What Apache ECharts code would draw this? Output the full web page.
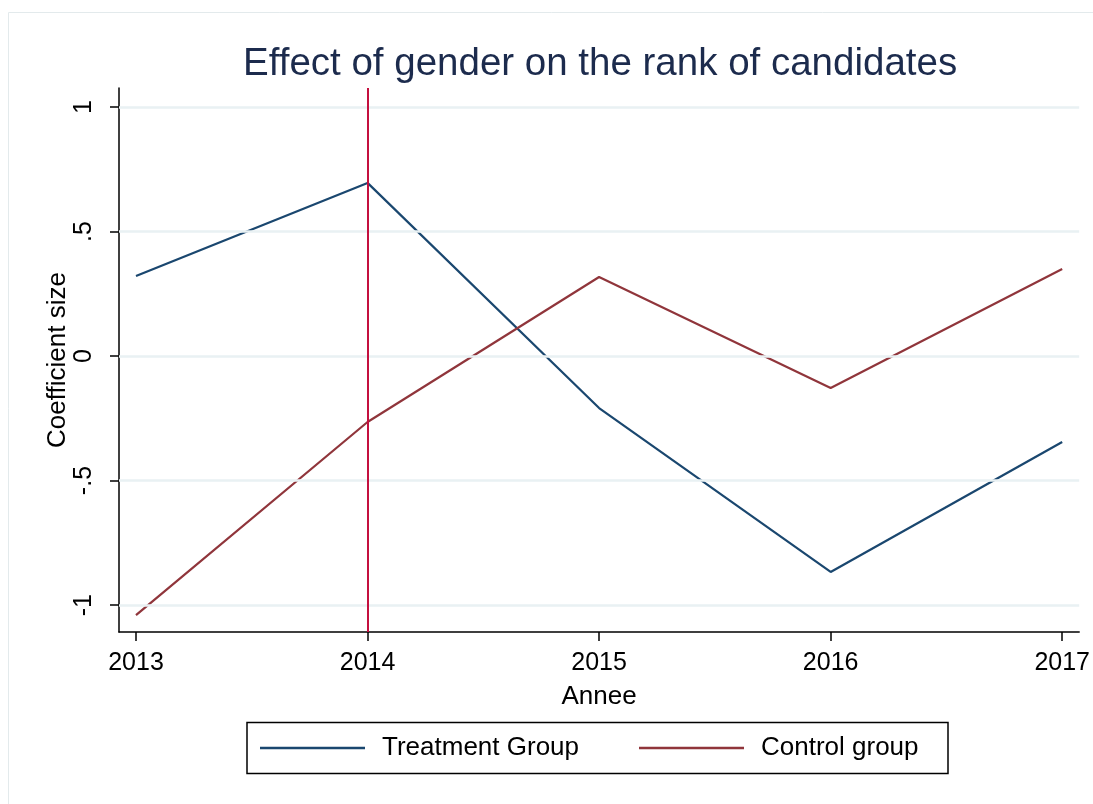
<!DOCTYPE html>
<html>
<head>
<meta charset="utf-8">
<script src="https://cdn.jsdelivr.net/npm/echarts@6/dist/echarts.min.js"></script>
<style>
html,body{margin:0;padding:0;background:#fff;}
#chart{width:1093px;height:804px;}
</style>
</head>
<body>
<div id="chart"></div>
<script>
var years = [2013, 2014, 2015, 2016, 2017];
var treatment = [0.321, 0.695, -0.209, -0.867, -0.345];
var control = [-1.04, -0.265, 0.317, -0.128, 0.349];
var yTicks = [-1, -0.5, 0, 0.5, 1];
var yTickLabels = ['-1', '-.5', '0', '.5', '1'];
var eventYear = 2014;

var FONT = "'Liberation Sans', Arial, Helvetica, sans-serif";
var chart = echarts.init(document.getElementById('chart'), null, {renderer: 'canvas'});

function pairs(xs, ys) { return xs.map(function (x, i) { return [x, ys[i]]; }); }

var option = {
  backgroundColor: '#ffffff',
  animation: false,
  title: {
    text: 'Effect of gender on the rank of candidates',
    left: 243, top: 45, padding: 0,
    textStyle: {fontFamily: FONT, fontSize: 38.5, fontWeight: 'normal', color: '#1c2b4d'}
  },
  graphic: [
    {type: 'rect', shape: {x: 8.5, y: 12.5, width: 1200, height: 1200},
     style: {fill: 'none', stroke: '#e3eaec', lineWidth: 1}, silent: true, z: -10},
    {type: 'rect', shape: {x: 247, y: 722.5, width: 701, height: 51},
     style: {fill: 'none', stroke: '#000', lineWidth: 1.5}, silent: true}
  ],
  legend: {
    data: [{name: 'Treatment Group', icon: 'rect'}, {name: 'Control group', icon: 'rect'}],
    left: 260, top: 735, padding: 0,
    itemWidth: 105, itemHeight: 2.5, itemGap: 60,
    textStyle: {fontFamily: FONT, fontSize: 26, color: '#000', padding: [0, 0, 0, 12]}
  },
  grid: {left: 119, right: 13, top: 88, bottom: 172},
  xAxis: {
    type: 'value', min: 2012.9266, max: 2017.0734,
    name: 'Annee', nameLocation: 'middle', nameGap: 52, nameMoveOverlap: false,
    nameTextStyle: {fontFamily: FONT, fontSize: 26, color: '#000'},
    axisLine: {show: true, onZero: false, lineStyle: {color: '#000', width: 1.5}},
    axisTick: {show: true, length: 9, customValues: years, lineStyle: {color: '#000', width: 1.5}},
    axisLabel: {customValues: years, margin: 19, fontFamily: FONT, fontSize: 25, color: '#000',
                formatter: function (v) { return String(Math.round(v)); }},
    splitLine: {show: false}
  },
  yAxis: {
    type: 'value', min: -1.108, max: 1.076,
    name: 'Coefficient size', nameLocation: 'middle', nameGap: 48, nameRotate: 90, nameMoveOverlap: false,
    nameTextStyle: {fontFamily: FONT, fontSize: 26, color: '#000'},
    axisLine: {show: true, onZero: false, lineStyle: {color: '#000', width: 1.5}},
    axisTick: {show: true, length: 9, customValues: yTicks, lineStyle: {color: '#000', width: 1.5}},
    axisLabel: {customValues: yTicks, rotate: 90, margin: 22, fontFamily: FONT, fontSize: 25, color: '#000',
                formatter: function (v) {
                  var i = yTicks.indexOf(Math.round(v * 10) / 10);
                  return i >= 0 ? yTickLabels[i] : '';
                }},
    splitLine: {show: false}
  },
  series: [
    {
      name: 'gridlines', type: 'line', data: [], z: 1, silent: true,
      markLine: {
        silent: true, symbol: 'none', label: {show: false}, animation: false,
        lineStyle: {color: '#e9f1f3', width: 2.5, type: 'solid'},
        data: yTicks.map(function (v) { return {yAxis: v}; })
      }
    },
    {
      name: 'Treatment Group', type: 'line', z: 3,
      data: pairs(years, treatment), symbol: 'none', showSymbol: false,
      lineStyle: {color: '#1a476f', width: 2.2}, itemStyle: {color: '#1a476f'}
    },
    {
      name: 'Control group', type: 'line', z: 3,
      data: pairs(years, control), symbol: 'none', showSymbol: false,
      lineStyle: {color: '#90353b', width: 2.2}, itemStyle: {color: '#90353b'}
    },
    {
      name: 'event', type: 'line', data: [], z: 4, silent: true,
      markLine: {
        silent: true, symbol: 'none', label: {show: false}, animation: false,
        lineStyle: {color: '#c4103f', width: 2, type: 'solid'},
        data: [{xAxis: eventYear}]
      }
    }
  ]
};
chart.setOption(option);
</script>
</body>
</html>
